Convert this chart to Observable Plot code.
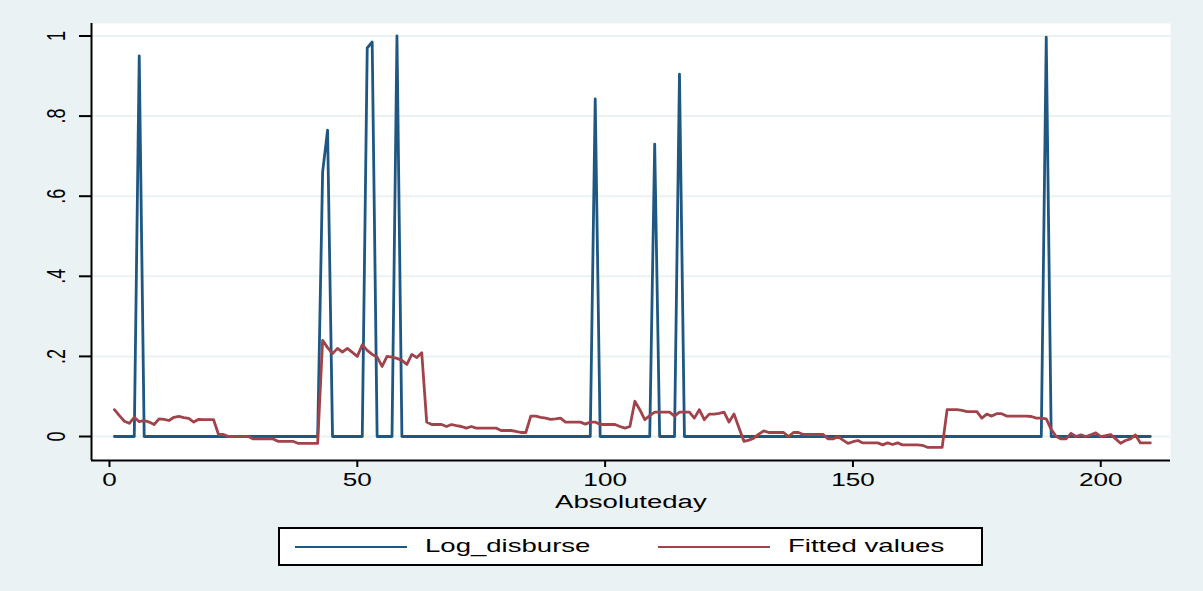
<!DOCTYPE html>
<html>
<head>
<meta charset="utf-8">
<script src="https://cdn.jsdelivr.net/npm/d3@7"></script>
<script src="https://cdn.jsdelivr.net/npm/@observablehq/plot@0.6"></script>
<style>
  html, body { margin: 0; padding: 0; }
  body { width: 1203px; height: 591px; background: #eaf2f3; position: relative; overflow: hidden;
         font-family: "Liberation Sans", Arial, Helvetica, sans-serif; }
  #chart { position: absolute; left: 0; top: 0; }
  #legend { position: absolute; left: 278px; top: 527px; width: 701px; height: 35px;
            border: 2px solid #000; background: #fff; }
  .key { position: absolute; top: 17px; height: 0; border-top: 2px solid; }
  .lab { position: absolute; top: 6px; font-size: 19px; line-height: 22px; color: #000;
         display: inline-block; transform: scaleX(1.45); transform-origin: left center; white-space: nowrap; }
</style>
</head>
<body>
<div id="chart"></div>
<div id="legend">
  <div class="key" style="left:15px;width:112px;border-color:#1e5781"></div>
  <span class="lab" style="left:145px">Log_disburse</span>
  <div class="key" style="left:378px;width:112px;border-color:#a1434a"></div>
  <span class="lab" style="left:508px">Fitted values</span>
</div>
<script>
// Day index of the series (1 … 210)
const days = d3.range(1, 211);

// Log_disburse, one value per day
const logDisburse = [
  0, 0, 0, 0, 0, 0.95, 0, 0, 0, 0,
  0, 0, 0, 0, 0, 0, 0, 0, 0, 0,
  0, 0, 0, 0, 0, 0, 0, 0, 0, 0,
  0, 0, 0, 0, 0, 0, 0, 0, 0, 0,
  0, 0, 0.66, 0.765, 0, 0, 0, 0, 0, 0,
  0, 0.97, 0.985, 0, 0, 0, 0, 1.0, 0, 0,
  0, 0, 0, 0, 0, 0, 0, 0, 0, 0,
  0, 0, 0, 0, 0, 0, 0, 0, 0, 0,
  0, 0, 0, 0, 0, 0, 0, 0, 0, 0,
  0, 0, 0, 0, 0, 0, 0, 0.843, 0, 0,
  0, 0, 0, 0, 0, 0, 0, 0, 0, 0.73,
  0, 0, 0, 0, 0.905, 0, 0, 0, 0, 0,
  0, 0, 0, 0, 0, 0, 0, 0, 0, 0,
  0, 0, 0, 0, 0, 0, 0, 0, 0, 0,
  0, 0, 0, 0, 0, 0, 0, 0, 0, 0,
  0, 0, 0, 0, 0, 0, 0, 0, 0, 0,
  0, 0, 0, 0, 0, 0, 0, 0, 0, 0,
  0, 0, 0, 0, 0, 0, 0, 0, 0, 0,
  0, 0, 0, 0, 0, 0, 0, 0, 0.997, 0,
  0, 0, 0, 0, 0, 0, 0, 0, 0, 0,
  0, 0, 0, 0, 0, 0, 0, 0, 0, 0
];

// Fitted values, one value per day
const fitted = [
  0.067, 0.052, 0.038, 0.033, 0.048, 0.037, 0.040, 0.036, 0.030, 0.044,
  0.043, 0.040, 0.048, 0.050, 0.047, 0.045, 0.036, 0.043, 0.042, 0.042,
  0.042, 0.005, 0.005, 0.000, 0.000, 0.000, 0.000, 0.000, -0.006, -0.006,
  -0.006, -0.006, -0.006, -0.012, -0.012, -0.012, -0.012, -0.017, -0.017, -0.017,
  -0.017, -0.017, 0.240, 0.222, 0.207, 0.220, 0.211, 0.220, 0.210, 0.200,
  0.229, 0.215, 0.205, 0.198, 0.175, 0.200, 0.198, 0.195, 0.190, 0.180,
  0.205, 0.197, 0.209, 0.036, 0.030, 0.030, 0.030, 0.025, 0.030, 0.027,
  0.025, 0.021, 0.025, 0.021, 0.021, 0.021, 0.021, 0.021, 0.015, 0.015,
  0.015, 0.013, 0.010, 0.010, 0.051, 0.051, 0.048, 0.046, 0.043, 0.044,
  0.046, 0.036, 0.036, 0.036, 0.036, 0.031, 0.036, 0.036, 0.030, 0.030,
  0.030, 0.030, 0.025, 0.021, 0.025, 0.088, 0.067, 0.042, 0.052, 0.061,
  0.061, 0.061, 0.061, 0.051, 0.061, 0.061, 0.061, 0.046, 0.067, 0.042,
  0.056, 0.056, 0.058, 0.061, 0.036, 0.056, 0.022, -0.012, -0.009, -0.004,
  0.006, 0.014, 0.010, 0.010, 0.010, 0.010, 0.000, 0.010, 0.010, 0.005,
  0.005, 0.005, 0.005, 0.005, -0.006, -0.006, 0.000, -0.009, -0.017, -0.013,
  -0.010, -0.016, -0.016, -0.016, -0.016, -0.021, -0.016, -0.020, -0.016, -0.021,
  -0.021, -0.021, -0.021, -0.022, -0.027, -0.027, -0.027, -0.027, 0.067, 0.067,
  0.067, 0.065, 0.062, 0.062, 0.062, 0.046, 0.056, 0.051, 0.057, 0.057,
  0.051, 0.051, 0.051, 0.051, 0.051, 0.050, 0.046, 0.046, 0.044, 0.018,
  0.000, -0.006, -0.006, 0.008, 0.000, 0.004, 0.000, 0.004, 0.009, 0.000,
  0.002, 0.005, -0.006, -0.017, -0.010, -0.006, 0.004, -0.016, -0.016, -0.016
];

// Axis ticks
const xTicks = [0, 50, 100, 150, 200];
const yTicks = [0, 0.2, 0.4, 0.6, 0.8, 1];
const yTickLabels = ["0", ".2", ".4", ".6", ".8", "1"];

const xDomain = [-3.63, 214.07];
const yDomain = [-0.0599, 1.0312];

const chart = Plot.plot({
  width: 1203,
  height: 515,
  marginLeft: 91,
  marginRight: 33,
  marginTop: 23,
  marginBottom: 55,
  style: { background: "transparent", fontFamily: "Liberation Sans, Arial, sans-serif", fontSize: "18px", color: "#000", overflow: "visible" },
  x: { domain: xDomain },
  y: { domain: yDomain },
  marks: [
    Plot.frame({ fill: "#fff", stroke: null }),
    Plot.ruleY(yTicks, { stroke: "#eaf2f3", strokeWidth: 2 }),
    Plot.line(days, { x: d => d, y: (d, i) => logDisburse[i], stroke: "#1e5781", strokeWidth: 2.8 }),
    Plot.line(days, { x: d => d, y: (d, i) => fitted[i], stroke: "#a1434a", strokeWidth: 2.8 }),
    Plot.axisY(yTicks, {
      tickFormat: (d, i) => yTickLabels[i], tickRotate: -90, tickSize: 12, tickPadding: 17,
      strokeWidth: 2, label: null, fontSize: 18
    }),
    Plot.axisX(xTicks, { tickSize: 7, tickPadding: 6, strokeWidth: 2, label: null, fontSize: 18 }),
    Plot.ruleX([xDomain[0]], { stroke: "#000", strokeWidth: 2 }),
    Plot.ruleY([yDomain[0]], { stroke: "#000", strokeWidth: 2 }),
    Plot.text(["Absoluteday"], { frameAnchor: "bottom", dy: 41, lineAnchor: "middle", fontSize: 19, fill: "#000" })
  ]
});

document.getElementById("chart").appendChild(chart);

// Widen every label horizontally around its own centre, as in the Stata export
chart.querySelectorAll("text").forEach(t => {
  const g = document.createElementNS("http://www.w3.org/2000/svg", "g");
  t.parentNode.insertBefore(g, t);
  g.appendChild(t);
  const bb = g.getBBox();
  const cx = bb.x + bb.width / 2;
  g.setAttribute("transform", `translate(${cx},0) scale(1.45,1) translate(${-cx},0)`);
});
</script>
</body>
</html>
